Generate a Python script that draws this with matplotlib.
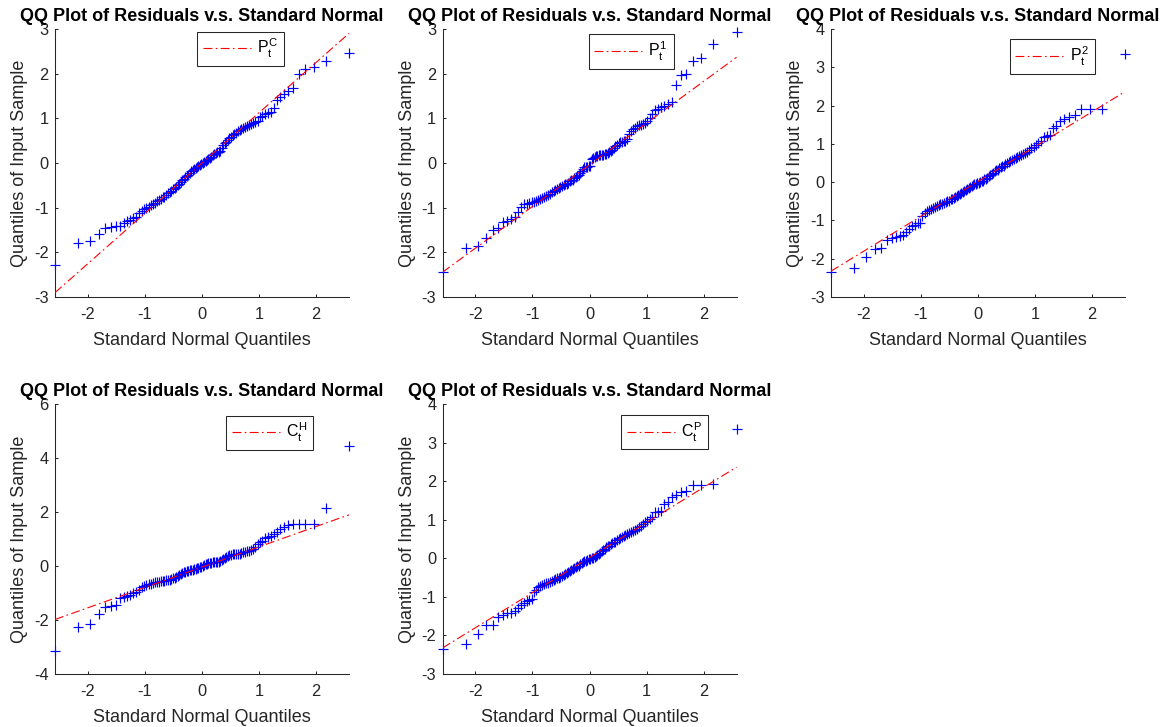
import numpy as np
import matplotlib
matplotlib.use("Agg")
import matplotlib.pyplot as plt
from statistics import NormalDist

plt.rcParams["font.family"] = ["Liberation Sans", "DejaVu Sans"]
plt.rcParams["mathtext.fontset"] = "custom"
plt.rcParams["mathtext.rm"] = "Liberation Sans"
plt.rcParams["mathtext.it"] = "Liberation Sans"
plt.rcParams["mathtext.bf"] = "Liberation Sans:bold"
plt.rcParams["axes.unicode_minus"] = False

AX_COLOR = "#262626"

# sorted residuals (100 obs per series)
pc_resid = [
    -2.28, -1.80, -1.75, -1.59, -1.45, -1.43, -1.42, -1.40, -1.34, -1.30,
    -1.27, -1.24, -1.21, -1.13, -1.07, -1.04, -1.01, -0.98, -0.95, -0.92,
    -0.89, -0.86, -0.83, -0.80, -0.77, -0.75, -0.71, -0.68, -0.65, -0.62,
    -0.59, -0.56, -0.53, -0.50, -0.46, -0.43, -0.39, -0.35, -0.32, -0.29,
    -0.26, -0.23, -0.19, -0.15, -0.13, -0.11, -0.09, -0.07, -0.05, -0.03,
    -0.01, 0.02, 0.05, 0.07, 0.09, 0.12, 0.14, 0.17, 0.20, 0.23,
    0.24, 0.25, 0.26, 0.34, 0.40, 0.45, 0.48, 0.52, 0.55, 0.58,
    0.62, 0.65, 0.68, 0.72, 0.75, 0.77, 0.79, 0.81, 0.83, 0.84,
    0.87, 0.90, 0.92, 0.95, 1.02, 1.06, 1.09, 1.12, 1.15, 1.24,
    1.42, 1.47, 1.55, 1.62, 1.68, 2.00, 2.10, 2.15, 2.28, 2.47,
]

p1_resid = [
    -2.44, -1.90, -1.86, -1.67, -1.49, -1.46, -1.31, -1.29, -1.26, -1.21,
    -1.10, -0.99, -0.92, -0.91, -0.90, -0.88, -0.87, -0.85, -0.82, -0.80,
    -0.78, -0.76, -0.74, -0.72, -0.69, -0.65, -0.63, -0.61, -0.58, -0.56,
    -0.54, -0.52, -0.50, -0.48, -0.46, -0.44, -0.41, -0.39, -0.37, -0.34,
    -0.32, -0.29, -0.26, -0.22, -0.18, -0.14, -0.10, -0.08, -0.08, -0.07,
    -0.06, 0.08, 0.12, 0.14, 0.15, 0.16, 0.17, 0.17, 0.18, 0.19,
    0.20, 0.21, 0.22, 0.24, 0.27, 0.30, 0.34, 0.38, 0.41, 0.44,
    0.46, 0.48, 0.49, 0.50, 0.53, 0.65, 0.72, 0.76, 0.79, 0.82,
    0.84, 0.86, 0.88, 0.90, 0.94, 1.00, 1.10, 1.18, 1.22, 1.25,
    1.28, 1.33, 1.36, 1.75, 1.97, 1.99, 2.29, 2.34, 2.66, 2.94,
]

p2_resid = [
    -2.34, -2.23, -1.96, -1.74, -1.72, -1.52, -1.46, -1.43, -1.41, -1.37,
    -1.30, -1.22, -1.15, -1.11, -1.08, -1.06, -0.88, -0.81, -0.75, -0.72,
    -0.70, -0.67, -0.65, -0.63, -0.61, -0.58, -0.56, -0.54, -0.52, -0.50,
    -0.48, -0.45, -0.43, -0.41, -0.39, -0.36, -0.34, -0.31, -0.29, -0.26,
    -0.23, -0.21, -0.19, -0.16, -0.12, -0.09, -0.07, -0.06, -0.05, -0.03,
    -0.02, 0.00, 0.02, 0.04, 0.07, 0.09, 0.12, 0.15, 0.18, 0.21,
    0.25, 0.29, 0.31, 0.33, 0.36, 0.39, 0.41, 0.43, 0.47, 0.50,
    0.53, 0.56, 0.59, 0.60, 0.62, 0.645, 0.67, 0.70, 0.73, 0.76,
    0.80, 0.84, 0.88, 0.93, 0.97, 1.01, 1.07, 1.19, 1.20, 1.23,
    1.42, 1.46, 1.59, 1.64, 1.71, 1.75, 1.90, 1.90, 1.92, 3.35,
]

ch_resid = [
    -3.15, -2.27, -2.16, -1.79, -1.51, -1.48, -1.44, -1.17, -1.14, -1.10,
    -1.07, -1.01, -0.95, -0.89, -0.78, -0.74, -0.70, -0.67, -0.65, -0.63,
    -0.61, -0.59, -0.58, -0.56, -0.555, -0.545, -0.53, -0.52, -0.50, -0.48,
    -0.46, -0.43, -0.40, -0.37, -0.33, -0.30, -0.27, -0.24, -0.22, -0.20,
    -0.18, -0.16, -0.15, -0.13, -0.11, -0.10, -0.08, -0.06, -0.04, -0.02,
    0.00, 0.03, 0.06, 0.08, 0.10, 0.11, 0.12, 0.13, 0.14, 0.15,
    0.15, 0.16, 0.18, 0.21, 0.25, 0.30, 0.33, 0.36, 0.39, 0.41,
    0.43, 0.44, 0.45, 0.455, 0.46, 0.47, 0.51, 0.53, 0.55, 0.56,
    0.58, 0.62, 0.70, 0.80, 0.90, 0.94, 1.05, 1.09, 1.12, 1.17,
    1.27, 1.37, 1.46, 1.52, 1.54, 1.54, 1.54, 1.55, 2.14, 4.46,
]

# the C_t^P panel shows the very same points as P_t^2
cp_resid = list(p2_resid)

series_labels = ["$P_t^C$", "$P_t^1$", "$P_t^2$", "$C_t^H$", "$C_t^P$"]
y_limits = [(-3, 3), (-3, 3), (-3, 4), (-4, 6), (-3, 4)]
y_steps = [1, 1, 1, 2, 1]

# layout (pixels of the 1169x727 figure): left, top, width, height
W, H = 1169, 727
axes_px = [
    (55, 29, 294, 268),
    (442.5, 29, 294, 268),
    (831, 29, 294, 268),
    (55, 404, 294, 270),
    (442.5, 404, 294, 270),
]
# legend upper-right corner in axes fraction
legend_anchor = [(0.78, 0.99), (0.786, 0.98), (0.897, 0.962), (0.879, 0.957), (0.904, 0.959)]


def qqplot(ax, resid, label, ylim, ystep, anchor):
    y = np.sort(np.asarray(resid, dtype=float))
    n = len(y)
    x = np.array([NormalDist().inv_cdf((i - 0.5) / n) for i in range(1, n + 1)])

    # reference line through the 1st and 3rd quartiles, like matlab's qqplot
    qx = np.percentile(x, [25, 75], method="hazen")
    qy = np.percentile(y, [25, 75], method="hazen")
    slope = (qy[1] - qy[0]) / (qx[1] - qx[0])
    xl = np.array([x[0], x[-1]])
    yl = qy[0] + slope * (xl - qx[0])

    ax.plot(x, y, "+", color="blue", ms=7.5, mew=0.85, zorder=2, clip_on=False)
    ax.plot(xl, yl, color="red", lw=0.8, ls=(0, (8, 3, 1.5, 3)), label=label, zorder=3)

    ax.set_xlim(x[0], x[-1])
    ax.set_ylim(*ylim)
    ax.set_xticks(np.arange(-2, 3, 1))
    ax.set_yticks(np.arange(ylim[0], ylim[1] + 0.1, ystep))

    for side in ["top", "right"]:
        ax.spines[side].set_visible(False)
    for side in ["left", "bottom"]:
        ax.spines[side].set_color(AX_COLOR)
        ax.spines[side].set_linewidth(0.75)
    ax.tick_params(direction="in", length=2.5, width=0.75, colors=AX_COLOR, labelsize=11.8)
    ax.tick_params(axis="x", pad=7.5)
    ax.tick_params(axis="y", pad=4.5)

    ax.set_title("QQ Plot of Residuals v.s. Standard Normal", fontsize=13,
                 fontweight="bold", color="black", pad=6)
    ax.set_xlabel("Standard Normal Quantiles", fontsize=13, color=AX_COLOR, labelpad=7)
    ax.set_ylabel("Quantiles of Input Sample", fontsize=13, color=AX_COLOR, labelpad=4)

    leg = ax.legend(loc="upper right", bbox_to_anchor=anchor, borderaxespad=0,
                    fontsize=11.5, handlelength=3.0, fancybox=False, framealpha=1,
                    borderpad=0.35, handletextpad=0.4)
    leg.get_frame().set_edgecolor(AX_COLOR)
    leg.get_frame().set_linewidth(0.75)


fig = plt.figure(figsize=(W / 100, H / 100), dpi=100)
all_resid = [pc_resid, p1_resid, p2_resid, ch_resid, cp_resid]
for k in range(5):
    l, t, w, h = axes_px[k]
    ax = fig.add_axes([l / W, 1 - (t + h) / H, w / W, h / H])
    qqplot(ax, all_resid[k], series_labels[k], y_limits[k], y_steps[k], legend_anchor[k])

fig.savefig("out.png", dpi=100)
